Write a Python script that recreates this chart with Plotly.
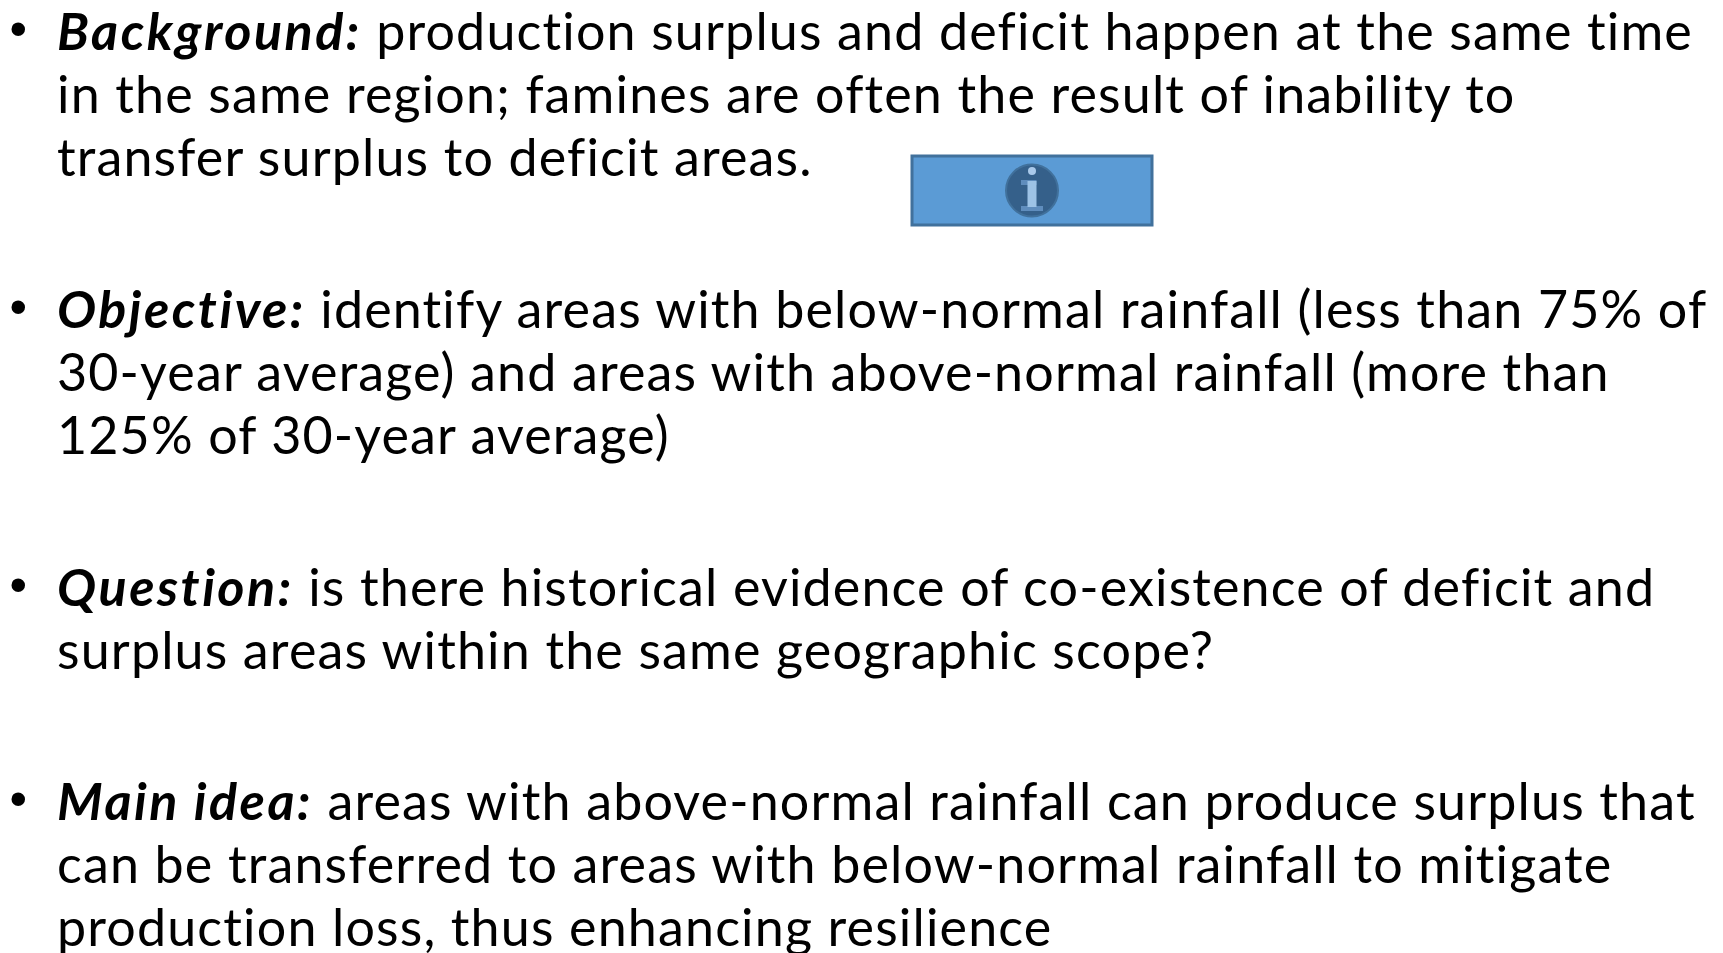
import plotly.graph_objects as go

FONT = "Lato"
SIZE = 52
text_x = 55
line_y = [30, 93, 156, 308, 371, 434, 586, 649, 800, 863, 926]
line_text = [
    "<b><i>Background:</i></b> production surplus and deficit happen at the same time",
    "in the same region; famines are often the result of inability to",
    "transfer surplus to deficit areas.",
    "<b><i>Objective:</i></b> identify areas with below-normal rainfall (less than 75% of",
    "30-year average) and areas with above-normal rainfall (more than",
    "125% of 30-year average)",
    "<b><i>Question:</i></b> is there historical evidence of co-existence of deficit and",
    "surplus areas within the same geographic scope?",
    "<b><i>Main idea:</i></b> areas with above-normal rainfall can produce surplus that",
    "can be transferred to areas with below-normal rainfall to mitigate",
    "production loss, thus enhancing resilience",
]
bullet_y = [29, 307, 585, 799]

fig = go.Figure()
fig.update_layout(
    width=1723, height=953, margin=dict(l=0, r=0, t=0, b=0),
    paper_bgcolor="white", plot_bgcolor="white",
    xaxis=dict(range=[0, 1723], visible=False, fixedrange=True),
    yaxis=dict(range=[953, 0], visible=False, fixedrange=True),
    showlegend=False,
)
for y, t in zip(line_y, line_text):
    fig.add_annotation(x=text_x, y=y, text=t, showarrow=False, xanchor="left", yanchor="middle", align="left",
                       font=dict(family=FONT, size=SIZE, color="#000"))
for y in bullet_y:
    fig.add_annotation(x=19, y=y, text="•", showarrow=False, xanchor="center", yanchor="middle",
                       font=dict(family="Liberation Sans", size=50, color="#000"))


def rect(x0, y0, x1, y1, fill, line=None, width=0):
    fig.add_shape(type="rect", x0=x0, y0=y0, x1=x1, y1=y1, fillcolor=fill,
                  line=dict(color=line or fill, width=width))


def disc(cx, cy, r, fill, line=None, width=0):
    fig.add_shape(type="circle", x0=cx - r, y0=cy - r, x1=cx + r, y1=cy + r, fillcolor=fill,
                  line=dict(color=line or fill, width=width))


rect(912, 156, 1152, 225, "#5B9BD5", "#41719C", 3)
disc(1032, 190.5, 26, "#35608A", "#41719C", 2)
disc(1032, 171, 4, "#A9C9EA")
rect(1021, 180, 1036.5, 185, "#5F8DBD")
rect(1021, 206, 1043, 211, "#5F8DBD")
rect(1027.5, 181, 1036.5, 207, "#9DC3E6")

css = (
    ".annotation-text{letter-spacing:1.15px;font-variant-ligatures:none}"
    ".annotation-text tspan[style*='bold']{letter-spacing:2.5px}"
)
post = (
    "document.body.style.margin='0';document.documentElement.style.overflow='hidden';"
    "var s=document.createElement('style');s.textContent=\"" + css + "\";document.head.appendChild(s);"
)
fig.write_html("out.html", post_script=post, config={"displayModeBar": False})
